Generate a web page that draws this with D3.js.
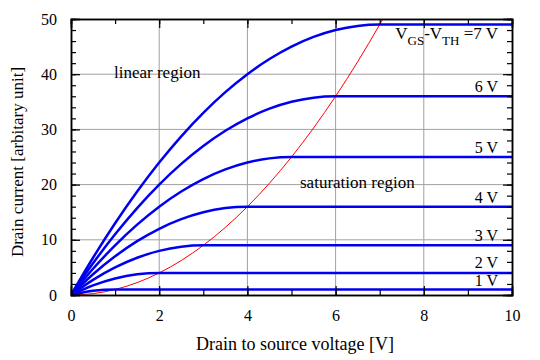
<!DOCTYPE html>
<html>
<head>
<meta charset="utf-8">
<script src="https://cdn.jsdelivr.net/npm/d3@7"></script>
<style>
  body { margin: 0; background: #fff; }
</style>
</head>
<body>
<div id="chart"></div>
<script>
// drain-source voltage samples shared by all curves
var vds = [0, 0.5, 1, 1.5, 2, 2.5, 3, 3.5, 4, 4.5, 5, 5.5, 6, 6.5, 7, 7.5, 8, 8.5, 9, 9.5, 10];

// drain current for each overdrive voltage
var id1 = [0, 0.75, 1, 1, 1, 1, 1, 1, 1, 1, 1, 1, 1, 1, 1, 1, 1, 1, 1, 1, 1];
var id2 = [0, 1.75, 3, 3.75, 4, 4, 4, 4, 4, 4, 4, 4, 4, 4, 4, 4, 4, 4, 4, 4, 4];
var id3 = [0, 2.75, 5, 6.75, 8, 8.75, 9, 9, 9, 9, 9, 9, 9, 9, 9, 9, 9, 9, 9, 9, 9];
var id4 = [0, 3.75, 7, 9.75, 12, 13.75, 15, 15.75, 16, 16, 16, 16, 16, 16, 16, 16, 16, 16, 16, 16, 16];
var id5 = [0, 4.75, 9, 12.75, 16, 18.75, 21, 22.75, 24, 24.75, 25, 25, 25, 25, 25, 25, 25, 25, 25, 25, 25];
var id6 = [0, 5.75, 11, 15.75, 20, 23.75, 27, 29.75, 32, 33.75, 35, 35.75, 36, 36, 36, 36, 36, 36, 36, 36, 36];
var id7 = [0, 6.75, 13, 18.75, 24, 28.75, 33, 36.75, 40, 42.75, 45, 46.75, 48, 48.75, 49, 49, 49, 49, 49, 49, 49];
var curves = [id1, id2, id3, id4, id5, id6, id7];
var curveLabels = ["1 V", "2 V", "3 V", "4 V", "5 V", "6 V", "=7 V"];

// boundary between linear and saturation region
var edgeV = [0, 0.5, 1, 1.5, 2, 2.5, 3, 3.5, 4, 4.5, 5, 5.5, 6, 6.5, 7, 7.5];
var edgeI = [0, 0.25, 1, 2.25, 4, 6.25, 9, 12.25, 16, 20.25, 25, 30.25, 36, 42.25, 49, 56.25];

var xTicks = [0, 2, 4, 6, 8, 10];
var yTicks = [0, 10, 20, 30, 40, 50];

var serif = "Liberation Serif";

var svgWidth = 540;
var svgHeight = 360;
var margin = { top: 19, right: 28, bottom: 65, left: 71 };
var chartWidth = svgWidth - margin.left - margin.right;
var chartHeight = svgHeight - margin.top - margin.bottom;

var svg = d3.select("#chart").append("svg")
    .attr("width", svgWidth)
    .attr("height", svgHeight)
    .attr("font-family", serif);

var chartGroup = svg.append("g")
    .attr("transform", `translate(${margin.left}, ${margin.top})`);

var xScale = d3.scaleLinear().domain([0, 10]).range([0, chartWidth]);
var yScale = d3.scaleLinear().domain([0, 50]).range([chartHeight, 0]);

svg.append("clipPath").attr("id", "plotclip")
  .append("rect").attr("width", chartWidth).attr("height", chartHeight);

// grid
chartGroup.append("g").selectAll("line")
    .data(xTicks.slice(1, -1))
    .enter().append("line")
    .attr("x1", d => xScale(d)).attr("x2", d => xScale(d))
    .attr("y1", 0).attr("y2", chartHeight)
    .attr("stroke", "#a0a0a0").attr("stroke-width", 1);
chartGroup.append("g").selectAll("line")
    .data(yTicks.slice(1, -1))
    .enter().append("line")
    .attr("y1", d => yScale(d)).attr("y2", d => yScale(d))
    .attr("x1", 0).attr("x2", chartWidth)
    .attr("stroke", "#a0a0a0").attr("stroke-width", 1);

// labels of regions
chartGroup.append("text")
    .attr("x", 43).attr("y", 59)
    .attr("font-family", serif)
    .attr("font-size", "17px")
    .text("linear region");
chartGroup.append("text")
    .attr("x", 229).attr("y", 169)
    .attr("font-family", serif)
    .attr("font-size", "17px")
    .text("saturation region");

var plot = chartGroup.append("g").attr("clip-path", "url(#plotclip)");

var line = d3.line()
    .x(d => xScale(d[0]))
    .y(d => yScale(d[1]))
    .curve(d3.curveMonotoneX);

// red boundary parabola
plot.append("path")
    .datum(edgeV.map((v, i) => [v, edgeI[i]]))
    .attr("d", line)
    .attr("fill", "none")
    .attr("stroke", "#ff0000")
    .attr("stroke-width", 1);

// blue characteristic curves
plot.selectAll(".curve")
    .data(curves)
    .enter().append("path")
    .attr("class", "curve")
    .attr("d", c => line(vds.map((v, i) => [v, c[i]])))
    .attr("fill", "none")
    .attr("stroke", "#0000f0")
    .attr("stroke-width", 2.5);

// curve labels, placed just above the flat part of each curve
var labelY = [1, 4, 9, 16, 25, 36, 49];
var labelDy = [-3, -5, -4, -4, -4, -4, 14];
curveLabels.forEach(function(lab, i) {
    var t = chartGroup.append("text")
        .attr("x", chartWidth - 14)
        .attr("y", yScale(labelY[i]) + labelDy[i])
        .attr("text-anchor", "end")
        .attr("font-family", serif)
        .attr("font-size", "16px");
    if (i == 6) {
        t.attr("font-size", "17px");
        t.append("tspan").text("V");
        t.append("tspan").attr("font-size", "13px").attr("dy", 6).text("GS");
        t.append("tspan").attr("dy", -6).text("-V");
        t.append("tspan").attr("font-size", "13px").attr("dy", 6).text("TH");
        t.append("tspan").attr("dy", -6).text(" " + lab);
    } else {
        t.text(lab);
    }
});

// axes, ticks on all four sides pointing inwards
var xMinor = d3.range(0, 11, 1);
var yMinor = d3.range(0, 51, 2);

chartGroup.append("g")
    .attr("transform", `translate(0, ${chartHeight})`)
    .call(d3.axisBottom(xScale).tickValues(xMinor).tickSize(-5).tickFormat(""));
chartGroup.append("g")
    .attr("transform", `translate(0, ${chartHeight})`)
    .call(d3.axisBottom(xScale).tickValues(xTicks).tickSize(-9).tickPadding(15).tickFormat(d3.format("d")));
chartGroup.append("g")
    .call(d3.axisTop(xScale).tickValues(xMinor).tickSize(-5).tickFormat(""));
chartGroup.append("g")
    .call(d3.axisTop(xScale).tickValues(xTicks).tickSize(-9).tickFormat(""));

chartGroup.append("g")
    .call(d3.axisLeft(yScale).tickValues(yMinor).tickSize(-5).tickFormat(""));
chartGroup.append("g")
    .call(d3.axisLeft(yScale).tickValues(yTicks).tickSize(-9).tickPadding(14).tickFormat(d3.format("d")));
chartGroup.append("g")
    .attr("transform", `translate(${chartWidth}, 0)`)
    .call(d3.axisRight(yScale).tickValues(yMinor).tickSize(-5).tickFormat(""));
chartGroup.append("g")
    .attr("transform", `translate(${chartWidth}, 0)`)
    .call(d3.axisRight(yScale).tickValues(yTicks).tickSize(-9).tickFormat(""));

chartGroup.selectAll(".domain").attr("stroke", "#000").attr("stroke-width", 1.5);
chartGroup.selectAll(".tick line").attr("stroke", "#000").attr("stroke-width", 1.2);
chartGroup.selectAll("g").attr("font-family", serif);
chartGroup.selectAll(".tick text")
    .attr("font-family", serif)
    .attr("font-size", "16px")
    .attr("fill", "#000");

// axis titles
svg.append("text")
    .attr("x", 295).attr("y", 350)
    .attr("text-anchor", "middle")
    .attr("font-family", serif)
    .attr("font-size", "18px")
    .text("Drain to source voltage [V]");
svg.append("text")
    .attr("transform", "rotate(-90)")
    .attr("x", -162).attr("y", 23)
    .attr("text-anchor", "middle")
    .attr("font-family", serif)
    .attr("font-size", "17px")
    .text("Drain current [arbitary unit]");
</script>
</body>
</html>
